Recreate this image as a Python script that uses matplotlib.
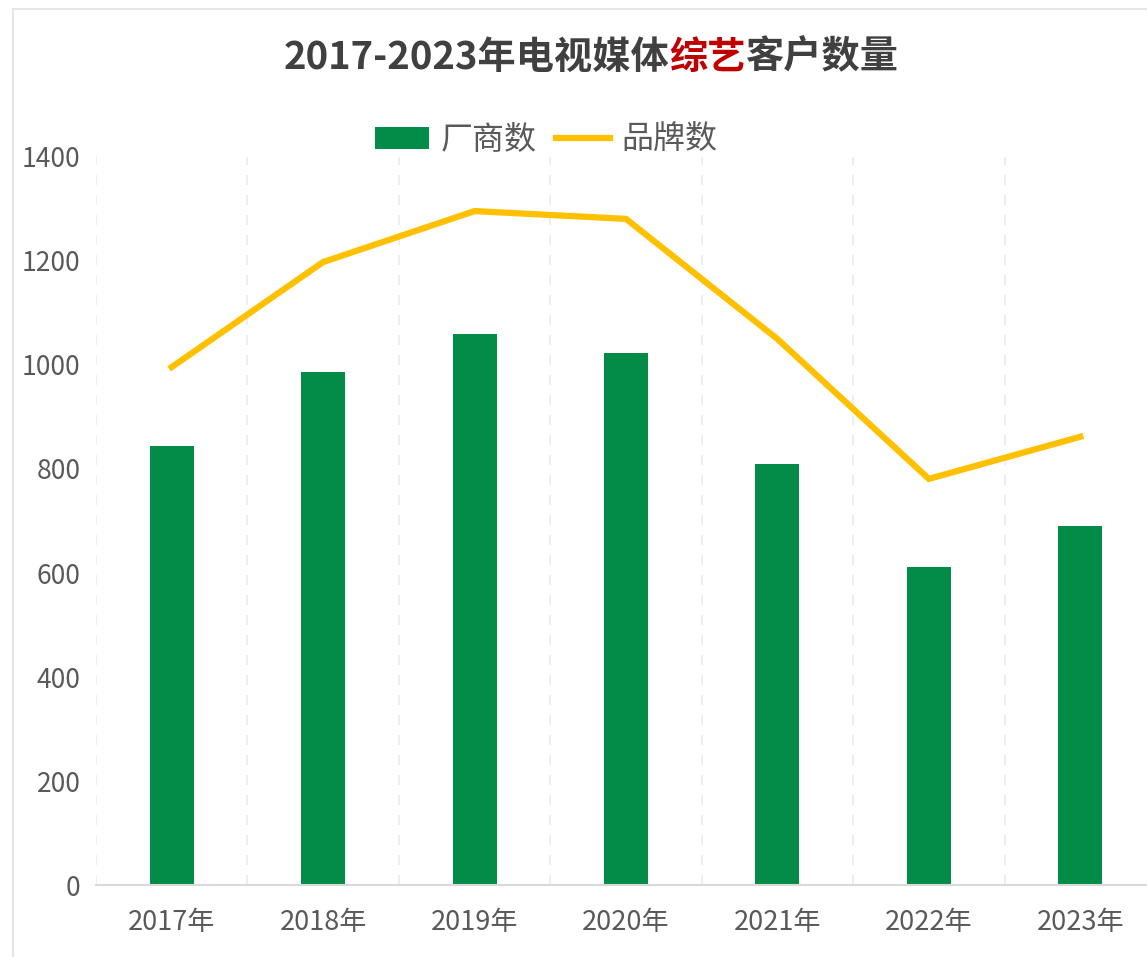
import numpy as np
import matplotlib
matplotlib.use("Agg")
import matplotlib.pyplot as plt
from matplotlib.patches import Rectangle, Patch
from matplotlib.lines import Line2D

plt.rcParams['font.family'] = ['Noto Sans CJK SC', 'DejaVu Sans']

# data
years = ['2017年', '2018年', '2019年', '2020年', '2021年', '2022年', '2023年']
vendors = [844, 986, 1060, 1023, 810, 612, 690]     # 厂商数
brands = [996, 1198, 1296, 1281, 1050, 781, 862]    # 品牌数
yticks = [0, 200, 400, 600, 800, 1000, 1200, 1400]

W, H = 1147, 957
fig = plt.figure(figsize=(W / 100, H / 100), dpi=100)

# outer light border (chart is cropped on right/bottom)
fig.patches.append(Rectangle((13 / W, -0.1), 1.2, (H - 9) / H + 0.1, transform=fig.transFigure,
                             fill=False, edgecolor='#E6E6E6', linewidth=1.5, zorder=0))

ax = fig.add_axes([96 / W, (H - 885) / H, 1060 / W, 728 / H])
x = np.arange(len(years))

ax.bar(x, vendors, width=0.29, color='#038C47', zorder=2)
ax.plot(x, brands, color='#FFC000', linewidth=4.5, solid_joinstyle='miter', zorder=3)

ax.set_xlim(-0.5, len(years) - 0.5)
ax.set_ylim(0, 1400)
ax.set_yticks(yticks)
ax.set_xticks(x)
ax.set_xticklabels(years)

for v in np.arange(-0.5, len(years) - 0.5, 1.0):
    ax.axvline(v, color='#EBEBEB', linestyle=(0, (6, 6)), linewidth=1.2, zorder=1)

for s in ['top', 'right', 'left']:
    ax.spines[s].set_visible(False)
ax.spines['bottom'].set_color('#D9D9D9')
ax.spines['bottom'].set_linewidth(1.5)
ax.tick_params(axis='both', length=0, labelsize=19.5, colors='#595959')
ax.tick_params(axis='y', labelsize=19)
ax.tick_params(axis='x', pad=17)
ax.tick_params(axis='y', pad=11)

# legend
handles = [Patch(facecolor='#038C47', edgecolor='none'),
           Line2D([0], [0], color='#FFC000', linewidth=4.5)]
leg = fig.legend(handles, ['厂商数', '品牌数'], loc='center', bbox_to_anchor=(546 / W, 1 - 140 / H),
                 ncol=2, frameon=False, fontsize=23, handlelength=1.7, handleheight=0.7,
                 handletextpad=0.35, columnspacing=0.6)
for t in leg.get_texts():
    t.set_color('#595959')

# title with coloured middle part
parts = [('2017-2023年电视媒体', '#404040'), ('综艺', '#C00000'), ('客户数量', '#404040')]
fig.canvas.draw()
renderer = fig.canvas.get_renderer()
texts = []
widths = []
for s, c in parts:
    t = fig.text(0, 1 - 57 / H, s, fontsize=27.5, fontweight='bold', color=c, va='center', ha='left')
    texts.append(t)
    widths.append(t.get_window_extent(renderer).width)
start = 591 - sum(widths) / 2
for t, w in zip(texts, widths):
    t.set_x(start / W)
    start += w

fig.savefig('out.png', dpi=100)
